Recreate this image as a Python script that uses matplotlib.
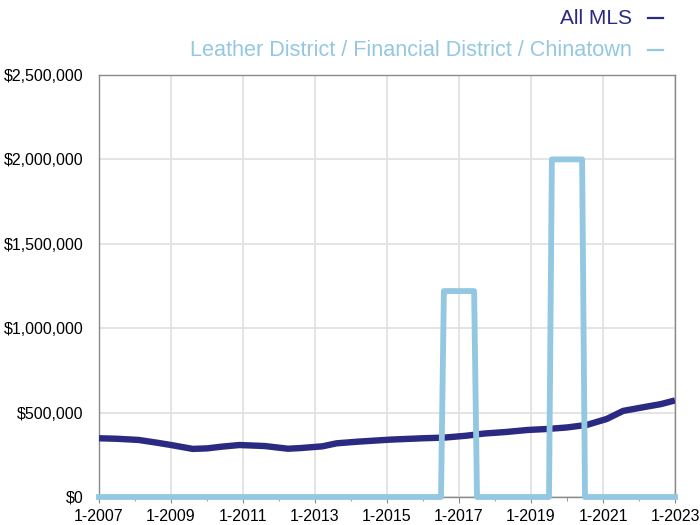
import matplotlib
matplotlib.use("Agg")
import matplotlib.pyplot as plt
from matplotlib.lines import Line2D
from matplotlib.ticker import FuncFormatter, MultipleLocator

# All MLS median price (decimal year, $)
mls_year = [2007.0, 2007.5, 2008.1, 2008.6, 2009.0, 2009.6, 2010.0, 2010.4, 2010.9,
            2011.6, 2012.25, 2012.6, 2013.2, 2013.6, 2014.2, 2015.1, 2016.0, 2016.6,
            2017.2, 2017.7, 2018.3, 2018.9, 2019.45, 2020.0, 2020.55, 2021.1, 2021.56,
            2022.2, 2022.6, 2023.0]
mls_price = [348000, 345000, 338000, 322000, 308000, 285000, 288000, 298000, 308000,
             302000, 286000, 290000, 300000, 318000, 328000, 340000, 348000, 352000,
             363000, 376000, 385000, 397000, 403000, 412000, 427000, 462000, 510000,
             535000, 550000, 572000]

# Leather District / Financial District / Chinatown (vertices of the step line)
ld_year = [2007.0, 2016.5, 2016.58, 2017.42, 2017.5, 2019.5, 2019.58, 2020.42, 2020.5, 2023.0]
ld_price = [0, 0, 1220000, 1220000, 0, 0, 2000000, 2000000, 0, 0]

x_ticks = list(range(2007, 2024, 2))
x_labels = [f"1-{y}" for y in x_ticks]

navy, light = "#2B2A82", "#94C7E2"
font = ["Liberation Sans", "DejaVu Sans"]
plt.rcParams["font.family"] = font

fig = plt.figure(figsize=(7, 5.25), dpi=100)
ax = fig.add_axes([99 / 700, 28 / 525, 576 / 700, 422 / 525])

ax.plot(mls_year, mls_price, color=navy, lw=4.6, solid_capstyle="butt", zorder=3)
ax.plot(ld_year, ld_price, color=light, lw=4.2, solid_joinstyle="round",
        clip_on=False, zorder=4)

ax.set_xlim(2007, 2023)
ax.set_ylim(0, 2500000)
ax.set_xticks(x_ticks)
ax.set_xticklabels(x_labels)
ax.xaxis.set_minor_locator(MultipleLocator(1))
ax.yaxis.set_major_locator(MultipleLocator(500000))
ax.yaxis.set_major_formatter(FuncFormatter(lambda v, p: f"${v:,.0f}"))
ax.tick_params(axis="x", which="both", direction="out", length=4, color="#888888",
               labelsize=11.5, pad=4.5)
ax.tick_params(axis="x", which="minor", length=3)
ax.tick_params(axis="y", length=0, labelsize=11.5, pad=11)
ax.grid(True, which="major", color="#e2e2e2", lw=1.3, zorder=0)
for s in ax.spines.values():
    s.set_color("#8a8a8a")
    s.set_linewidth(1.0)

# legend drawn as right-aligned text with a short dash after it
for label, color, yp, fs in [("All MLS", navy, 18, 15),
                             ("Leather District / Financial District / Chinatown", light, 50, 15.6)]:
    yf = 1 - yp / 525
    fig.text(632 / 700, yf, label, color=color, fontsize=fs, ha="right", va="center")
    fig.add_artist(Line2D([648 / 700, 663 / 700], [yf, yf], color=color, lw=1.6,
                          transform=fig.transFigure))

fig.savefig("out.png", dpi=100)
